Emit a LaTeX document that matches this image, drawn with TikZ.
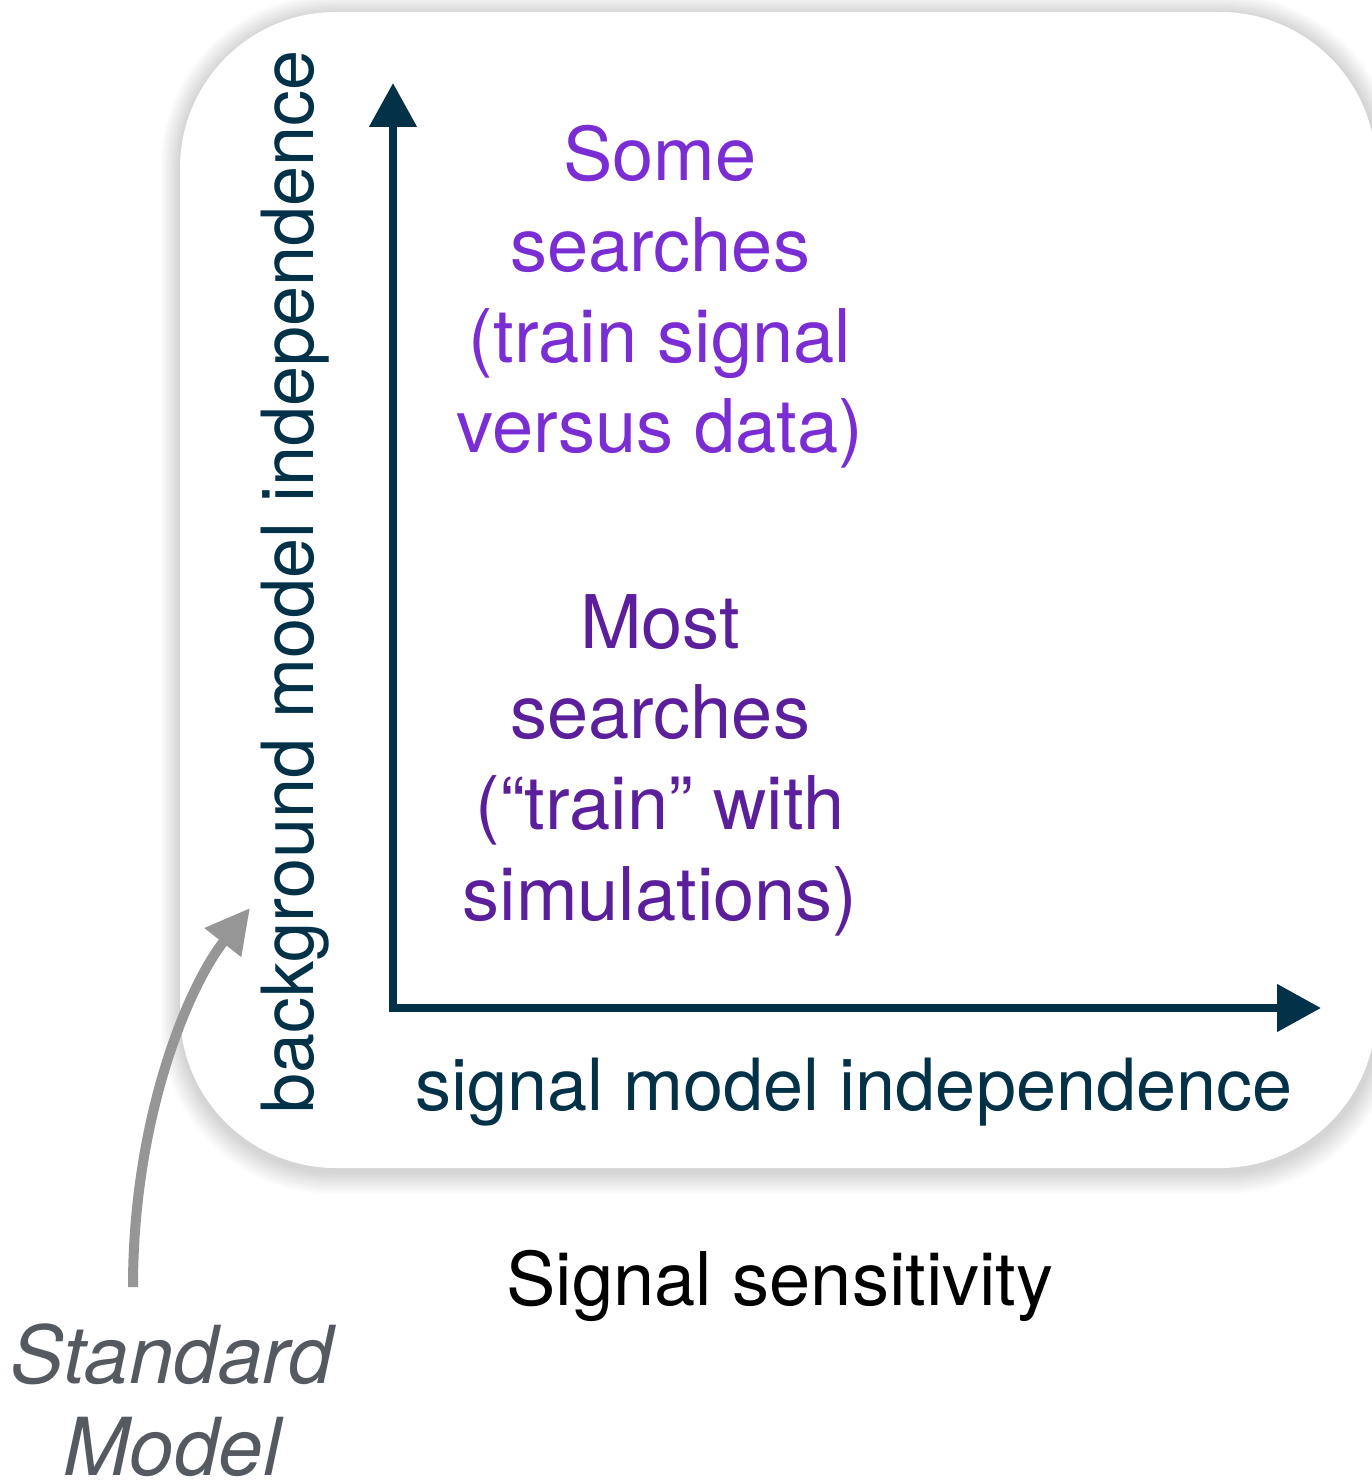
\documentclass[tikz,border=0pt]{standalone}
\usepackage{fontspec}
\setmainfont{TeX Gyre Heros}
\usetikzlibrary{arrows.meta}
\definecolor{navy}{RGB}{3,49,71}
\definecolor{lpurple}{RGB}{123,45,212}
\definecolor{dpurple}{RGB}{91,31,156}
\definecolor{smgray}{RGB}{85,89,96}
\definecolor{arrgray}{RGB}{150,150,150}
\tikzset{
  axisline/.style={navy, line width=4pt, line join=miter,
    {Triangle[length=22pt,width=23pt]}-{Triangle[length=22pt,width=23pt]}},
  axislabel/.style={navy, font=\fontsize{36}{43}\selectfont, anchor=base},
  regionlabel/.style={align=center, font=\fontsize{37}{45.3}\selectfont},
  smarrow/.style={arrgray, line width=5pt, -{Triangle[length=22pt,width=22pt]}},
}
\begin{document}
\begin{tikzpicture}[x=0.5pt,y=-0.5pt, every node/.style={inner sep=0pt, outer sep=0pt}]
\useasboundingbox (0,0) rectangle (1371,1482);
% soft shadow of the panel
\foreach \i in {1,...,14}{
  \fill[black, opacity=0.011, rounded corners={(78+\i*0.6)*1pt}]
    ({180-\i*1.4},{14-\i*1.4}) rectangle ({1378+\i*1.4},{1172+\i*1.6});
}
% panel
\fill[white, rounded corners=78pt] (180,12) rectangle (1376,1168);
% axes
\coordinate (ytip) at (393,83);
\coordinate (corner) at (393,1008);
\coordinate (xtip) at (1321,1008);
\draw[axisline] (ytip) -- (corner) -- (xtip);
% axis labels
\node[axislabel, rotate=90] (ylab) at (313,582) {background model independence};
\node[axislabel] (xlab) at (854,1110) {signal model independence};
% region labels
\node[regionlabel, text=lpurple] (some) at (660,297) {Some\\searches\\(train signal\\versus data)};
\node[regionlabel, text=dpurple] (most) at (660,765) {Most\\searches\\(“train” with\\simulations)};
% caption
\node[anchor=base, font=\fontsize{37}{44}\selectfont] (sens) at (780,1305) {Signal sensitivity};
% Standard Model
\node[align=center, text=smgray, font=\fontsize{40}{46}\selectfont\itshape] (sm) at (172,1400) {Standard\\Model};
\coordinate (smtail) at (133,1287);
\coordinate (smtip) at (250,908);
\draw[smarrow] (smtail) .. controls (133,1120) and (187,988) .. (smtip);
\end{tikzpicture}
\end{document}
